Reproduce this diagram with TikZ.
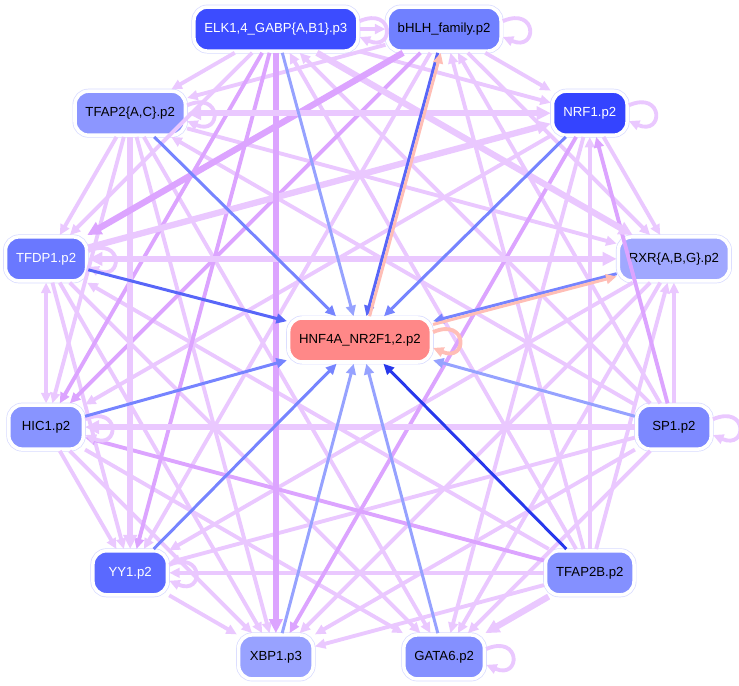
\documentclass[tikz,border=0pt]{standalone}
\usepackage{fontspec}
\setmainfont{Liberation Sans}
\usetikzlibrary{arrows.meta}

\begin{document}
\begin{tikzpicture}[
        tf/.style={rounded corners=0.27cm, minimum width=1.49cm, minimum height=0.88cm,
            inner xsep=0.21cm, font=\fontsize{7.5}{9}\selectfont,
            draw=white, line width=2pt, preaction={draw=halo, line width=2.8pt}},
        arr/.style={-{Triangle[length=6pt, width=5.5pt]}},
        lite/.style={arr, draw=lavlite, line width=2.2pt},
        deep/.style={arr, draw=lavdeep, line width=2.2pt},
        fat/.style={-{Triangle[length=8pt, width=7.5pt]}, draw=lavlite, line width=3.6pt},
        hub/.style={arr, line width=1.7pt},
    ]
        \definecolor{halo}{RGB}{215,218,255}
        \definecolor{lavlite}{RGB}{234,200,255}
        \definecolor{lavdeep}{RGB}{220,164,255}
        \definecolor{salm}{RGB}{255,190,182}
        \definecolor{hubA}{RGB}{150,162,255}
        \definecolor{hubB}{RGB}{118,132,255}
        \definecolor{hubC}{RGB}{88,102,248}
        \definecolor{hubD}{RGB}{40,56,236}

        \useasboundingbox (-7.2,-6.86) rectangle (7.58,6.86);

        % transcription factor nodes
        \node[tf, fill={rgb,255:red,60;green,76;blue,255}, text=white] (elk) at (105:6.5) {ELK1,4\_GABP\{A,B1\}.p3};
        \node[tf, fill={rgb,255:red,112;green,128;blue,255}] (bhlh) at (75:6.5) {bHLH\_family.p2};
        \node[tf, fill={rgb,255:red,52;green,68;blue,255}, text=white] (nrf) at (45:6.5) {NRF1.p2};
        \node[tf, fill={rgb,255:red,160;green,168;blue,255}] (rxr) at (15:6.5) {RXR\{A,B,G\}.p2};
        \node[tf, fill={rgb,255:red,124;green,136;blue,255}] (sp) at (-15:6.5) {SP1.p2};
        \node[tf, fill={rgb,255:red,132;green,144;blue,255}] (tfb) at (-45:6.5) {TFAP2B.p2};
        \node[tf, fill={rgb,255:red,132;green,144;blue,255}] (gata) at (-75:6.5) {GATA6.p2};
        \node[tf, fill={rgb,255:red,152;green,162;blue,255}] (xbp) at (-105:6.5) {XBP1.p3};
        \node[tf, fill={rgb,255:red,90;green,105;blue,255}, text=white] (yy) at (-135:6.5) {YY1.p2};
        \node[tf, fill={rgb,255:red,136;green,148;blue,255}] (hic) at (-165:6.5) {HIC1.p2};
        \node[tf, fill={rgb,255:red,106;green,120;blue,255}, text=white] (tfdp) at (165:6.5) {TFDP1.p2};
        \node[tf, fill={rgb,255:red,140;green,150;blue,255}] (tfac) at (135:6.5) {TFAP2\{A,C\}.p2};
        \node[tf, fill={rgb,255:red,255;green,136;blue,136}] (hnf) at (0,0.06) {HNF4A\_NR2F1,2.p2};

        % links between the outer factors
        \foreach \u/\v in {sp/elk, sp/bhlh, sp/rxr, sp/tfac, sp/yy, sp/xbp, sp/gata,
                tfb/elk, tfb/bhlh, tfb/nrf, tfb/rxr, tfb/tfdp, tfb/yy, tfb/xbp,
                elk/bhlh, elk/nrf, elk/tfac, elk/tfdp,
                bhlh/nrf, bhlh/rxr, bhlh/yy, bhlh/tfac,
                nrf/rxr, nrf/gata, nrf/hic, rxr/gata, rxr/xbp, rxr/yy, tfac/rxr,
                hic/gata, tfdp/gata, tfac/gata, yy/xbp, hic/xbp, tfdp/xbp, tfac/xbp,
                hic/yy, tfdp/yy, tfac/hic, tfac/tfdp}
            \draw[lite] (\u) -- (\v);
        \foreach \u/\v in {elk/hic, elk/yy, bhlh/hic, sp/nrf, tfb/hic, nrf/xbp}
            \draw[deep] (\u) -- (\v);
        \foreach \u/\v in {sp/hic, tfb/gata, tfac/yy, tfdp/nrf, elk/rxr}
            \draw[fat] (\u) -- (\v);
        \draw[fat, draw=lavdeep] (elk) -- (xbp);
        \draw[fat, draw=lavdeep] (bhlh) -- (tfdp);
        \draw[fat, {Triangle[length=8pt, width=7.5pt]}-{Triangle[length=8pt, width=7.5pt]}] (tfac) -- (nrf);
        \draw[fat, {Triangle[length=8pt, width=7.5pt]}-{Triangle[length=8pt, width=7.5pt]}] (tfdp) -- (rxr);
        \draw[lite, {Triangle[length=6pt, width=5.5pt]}-{Triangle[length=6pt, width=5.5pt]}] (tfdp) -- (hic);

        % self loops
        \foreach \u in {elk, bhlh, nrf, tfac, tfdp, hic, yy, sp, gata}
            \draw[lite] ([yshift=4.5pt]\u.east) .. controls +(0.7,0.3) and +(0.7,-0.3) .. ([yshift=-4.5pt]\u.east);
        \draw[lite, draw=salm] ([yshift=4.5pt]hnf.east) .. controls +(0.7,0.3) and +(0.7,-0.3) .. ([yshift=-4.5pt]hnf.east);

        % links into the hub
        \foreach \u/\c in {elk/hubA, bhlh/hubC, nrf/hubB, rxr/hubB, sp/hubA, tfb/hubD,
                gata/hubA, xbp/hubA, yy/hubB, hic/hubB, tfdp/hubC, tfac/hubB}
            \draw[hub, draw=\c] (\u) -- (hnf);
        \draw[hub, draw=salm] (hnf.68) -- (bhlh.-98);
        \draw[hub, draw=salm] (hnf.12) -- (rxr.-163);

\end{tikzpicture}
\end{document}
